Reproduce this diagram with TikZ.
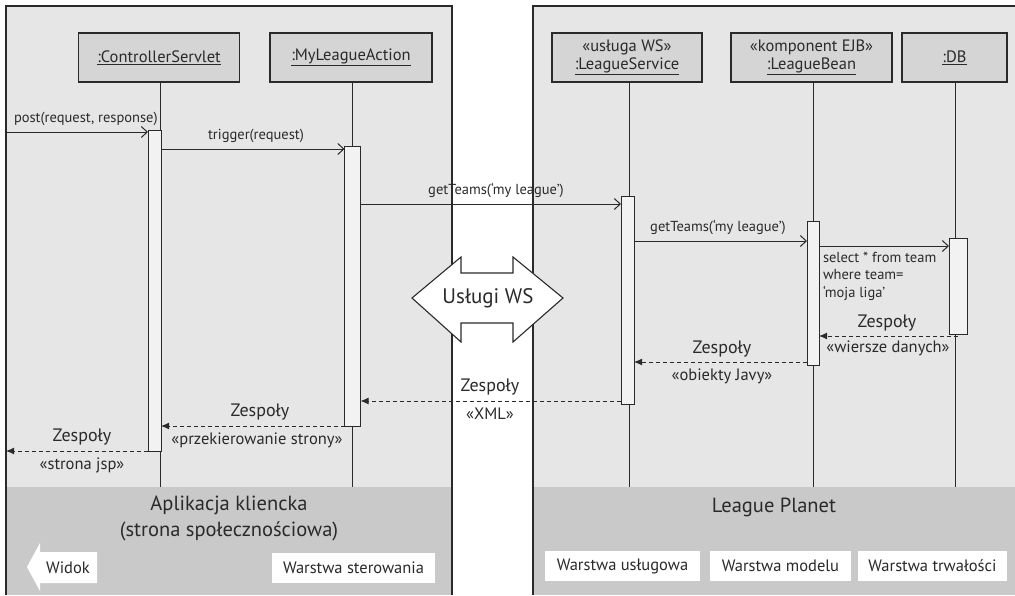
\documentclass[tikz,border=0pt]{standalone}
\usepackage{fontspec}
\setmainfont{PT Sans}
\usetikzlibrary{arrows.meta}
\definecolor{panelbg}{HTML}{E6E6E6}
\definecolor{headbg}{HTML}{D5D5D5}
\definecolor{bandbg}{HTML}{C9C9C9}
\definecolor{barbg}{HTML}{F2F2F2}
\definecolor{ink}{HTML}{2A2A2A}
\begin{document}
\begin{tikzpicture}[x=1pt,y=-1pt,
  every node/.style={inner sep=0pt,outer sep=0pt,text=ink},
  border/.style={draw=ink,line width=1.4pt},
  headbox/.style={draw=ink,line width=1.1pt,fill=headbg,minimum height=49pt,align=center,font=\fontsize{16.5}{17.5}\selectfont},
  life/.style={draw=ink,line width=1pt},
  actbar/.style={draw=ink,line width=1pt,fill=barbg,minimum width=14pt},
  msg/.style={draw=ink,line width=1pt,-{Straight Barb[length=6pt,width=11pt,line width=1pt]}},
  ret/.style={draw=ink,line width=1pt,dash pattern=on 4pt off 3pt,-{Latex[length=8pt,width=7pt]}},
  smalllbl/.style={font=\fontsize{14.5}{16}\selectfont},
  biglbl/.style={font=\fontsize{18}{20}\selectfont},
  stlbl/.style={font=\fontsize{16.5}{18}\selectfont},
  layerbox/.style={fill=white,minimum height=30pt,inner xsep=5pt,font=\fontsize{16.5}{18}\selectfont}
]
\useasboundingbox (0,0) rectangle (1015,595);
\fill[white] (0,0) rectangle (1015,595);
% panels
\fill[panelbg] (6,6) rectangle (452,595);
\fill[panelbg] (533,6) rectangle (1015,595);
\fill[bandbg] (6,487) rectangle (452,595);
\fill[bandbg] (533,487) rectangle (1015,595);
\draw[border] (6,595) -- (6,6) -- (452,6) -- (452,595);
\draw[border] (533,595) -- (533,6) -- (1015,6);

% headers
\node[headbox,minimum width=161pt] (cs) at (159,57.5) {\underline{:ControllerServlet}};
\node[headbox,minimum width=162pt] (mla) at (351,57.5) {\underline{:MyLeagueAction}};
\node[headbox,minimum width=150pt] (ls) at (627,57.5) {«usługa WS»\\\underline{:LeagueService}};
\node[headbox,minimum width=161pt] (lb) at (811.5,57.5) {«komponent EJB»\\\underline{:LeagueBean}};
\node[headbox,minimum width=105pt] (db) at (954.5,57.5) {\underline{:DB}};

% lifeline ends
\coordinate (csE) at (160,487);
\coordinate (mlaE) at (352,487);
\coordinate (lsE) at (629,487);
\coordinate (lbE) at (813,487);
\coordinate (dbE) at (955,487);
\draw[life] (cs.south -| csE) -- (csE);
\draw[life] (mla.south -| mlaE) -- (mlaE);
\draw[life] (ls.south -| lsE) -- (lsE);
\draw[life] (lb.south -| lbE) -- (lbE);
\draw[life] (db.south -| dbE) -- (dbE);

% activation bars
\node[actbar,minimum width=13pt,minimum height=321pt] (b1) at (154.5,290.5) {};
\node[actbar,minimum width=16pt,minimum height=280pt] (b2) at (352.5,286) {};
\node[actbar,minimum width=13pt,minimum height=208pt] (b3) at (627.5,300) {};
\node[actbar,minimum width=12pt,minimum height=144pt] (b4) at (813,293) {};
\node[actbar,minimum width=18pt,minimum height=96pt] (b5) at (958,286) {};

% message y levels
\coordinate (in) at (6,132);
\coordinate (out) at (6,451);
\coordinate (y2) at (0,149);
\coordinate (y3) at (0,204);
\coordinate (y4) at (0,241);
\coordinate (y5) at (0,246);
\coordinate (y6) at (0,336);
\coordinate (y7) at (0,362);
\coordinate (y8) at (0,401);
\coordinate (y9) at (0,426);

% calls
\draw[msg] (in) -- (b1.west |- in);
\node[smalllbl,anchor=south west] (l1) at (14,126) {post(request, response)};
\draw[msg] (b1.east |- y2) -- (b2.west |- y2);
\node[smalllbl,anchor=south] (l2) at (256,143) {trigger(request)};
\draw[msg] (b2.east |- y3) -- (b3.west |- y3);
\node[smalllbl,anchor=south] (l3) at (496,198) {getTeams(‘my league’)};
\draw[msg] (b3.east |- y4) -- (b4.west |- y4);
\node[smalllbl,anchor=south] (l4) at (718,235) {getTeams(‘my league’)};
\draw[msg] (b4.east |- y5) -- (b5.west |- y5);
\node[smalllbl,anchor=north west,align=left,font=\fontsize{14.5}{17.5}\selectfont] (l5) at (823,252) {select * from team\\where team=\\‘moja liga’};

% returns
\draw[ret] (b5.south |- y6) -- (b4.east |- y6);
\node[biglbl,anchor=south] (l6a) at (887,331) {Zespoły};
\node[stlbl,anchor=north] (l6b) at (888,341) {«wiersze danych»};
\draw[ret] (b4.west |- y7) -- (b3.east |- y7);
\node[biglbl,anchor=south] (l7a) at (722,357) {Zespoły};
\node[stlbl,anchor=north] (l7b) at (722,369) {«obiekty Javy»};
\draw[ret] (b3.west |- y8) -- (b2.east |- y8);
\node[biglbl,anchor=south] (l8a) at (490,395) {Zespoły};
\node[stlbl,anchor=north] (l8b) at (490,408) {«XML»};
\draw[ret] (b2.west |- y9) -- (b1.east |- y9);
\node[biglbl,anchor=south] (l9a) at (260,420) {Zespoły};
\node[stlbl,anchor=north] (l9b) at (257,433) {«przekierowanie strony»};
\draw[ret] (b1.west |- out) -- (out);
\node[biglbl,anchor=south] (l10a) at (82,445) {Zespoły};
\node[stlbl,anchor=north] (l10b) at (82,458) {«strona jsp»};

% web services double arrow
\draw[draw=ink,line width=1.1pt,fill=white,line join=miter]
  (412,298) -- (461,257) -- (461,273) -- (513,273) -- (513,257) -- (563,298)
  -- (513,342) -- (513,323) -- (461,323) -- (461,342) -- cycle;
\node[font=\fontsize{21}{23}\selectfont] (ws) at (488,298) {Usługi WS};

% bottom bands
\node[align=center,font=\fontsize{20.5}{26}\selectfont] (app) at (229,518) {Aplikacja kliencka\\(strona społecznościowa)};
\node[font=\fontsize{20.5}{22}\selectfont] (lp) at (774,507) {League Planet};
\fill[white] (27,567) -- (40,543) -- (40,552) -- (97,552) -- (97,583) -- (40,583) -- (40,591) -- cycle;
\node[font=\fontsize{16.5}{18}\selectfont] (widok) at (68,567.5) {Widok};
\node[layerbox,minimum width=163pt] (wst) at (353.5,567.5) {Warstwa sterowania};
\node[layerbox,minimum width=155pt] (wus) at (622.5,566) {Warstwa usługowa};
\node[layerbox,minimum width=141pt] (wmo) at (780.5,566) {Warstwa modelu};
\node[layerbox,minimum width=149pt] (wtr) at (932.5,566) {Warstwa trwałości};
\end{tikzpicture}
\end{document}
